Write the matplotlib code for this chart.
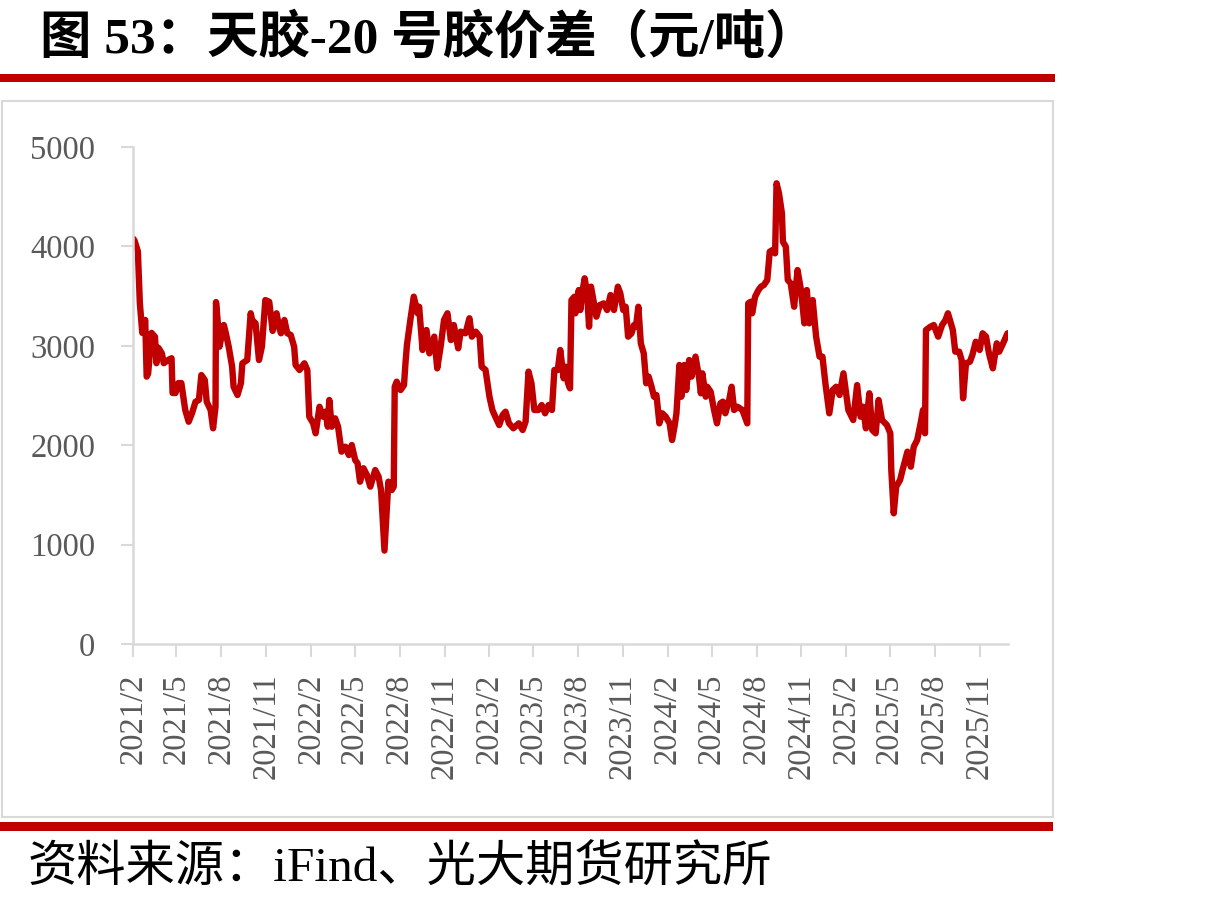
import matplotlib
matplotlib.use("Agg")
import matplotlib.pyplot as plt
import pandas as pd
from matplotlib.patches import Rectangle

title = "图 53：天胶-20 号胶价差（元/吨）"
source = "资料来源：iFind、光大期货研究所"

dates = [
    "2021-02-01", "2021-02-04", "2021-02-11", "2021-02-15", "2021-02-18", "2021-02-20", "2021-02-23", "2021-02-26",
    "2021-03-01", "2021-03-04", "2021-03-11", "2021-03-18", "2021-03-21", "2021-03-25", "2021-04-01", "2021-04-05",
    "2021-04-15", "2021-04-21", "2021-04-23", "2021-04-29", "2021-05-05", "2021-05-11", "2021-05-19", "2021-05-26",
    "2021-06-02", "2021-06-09", "2021-06-16", "2021-06-21", "2021-06-28", "2021-07-02", "2021-07-10", "2021-07-15",
    "2021-07-20", "2021-07-21", "2021-07-26", "2021-07-28", "2021-08-06", "2021-08-10", "2021-08-16", "2021-08-23",
    "2021-08-26", "2021-09-03", "2021-09-10", "2021-09-13", "2021-09-23", "2021-09-30", "2021-10-03", "2021-10-10",
    "2021-10-17", "2021-10-23", "2021-10-30", "2021-11-07", "2021-11-14", "2021-11-22", "2021-11-27", "2021-12-01",
    "2021-12-08", "2021-12-14", "2021-12-21", "2021-12-28", "2021-12-31", "2022-01-08", "2022-01-18", "2022-01-24",
    "2022-01-28", "2022-02-05", "2022-02-10", "2022-02-18", "2022-02-25", "2022-03-02", "2022-03-07", "2022-03-10",
    "2022-03-15", "2022-03-22", "2022-03-28", "2022-04-04", "2022-04-12", "2022-04-19", "2022-04-25", "2022-05-02",
    "2022-05-07", "2022-05-12", "2022-05-19", "2022-05-26", "2022-06-02", "2022-06-12", "2022-06-19", "2022-06-24",
    "2022-07-01", "2022-07-06", "2022-07-09", "2022-07-16", "2022-07-20", "2022-07-22", "2022-07-26", "2022-08-03",
    "2022-08-10", "2022-08-13", "2022-08-16", "2022-08-23", "2022-08-30", "2022-09-07", "2022-09-10", "2022-09-17",
    "2022-09-25", "2022-10-01", "2022-10-11", "2022-10-17", "2022-10-24", "2022-10-31", "2022-11-07", "2022-11-14",
    "2022-11-20", "2022-11-29", "2022-12-04", "2022-12-14", "2022-12-22", "2022-12-27", "2023-01-04", "2023-01-12",
    "2023-01-16", "2023-01-24", "2023-02-01", "2023-02-07", "2023-02-13", "2023-02-21", "2023-02-28", "2023-03-06",
    "2023-03-13", "2023-03-22", "2023-04-02", "2023-04-10", "2023-04-16", "2023-04-22", "2023-04-28", "2023-05-04",
    "2023-05-12", "2023-05-19", "2023-05-26", "2023-06-02", "2023-06-09", "2023-06-14", "2023-06-21", "2023-06-26",
    "2023-07-03", "2023-07-07", "2023-07-12", "2023-07-16", "2023-07-19", "2023-07-25", "2023-07-27", "2023-08-03",
    "2023-08-06", "2023-08-11", "2023-08-15", "2023-08-20", "2023-08-24", "2023-08-28", "2023-09-03", "2023-09-08",
    "2023-09-15", "2023-09-23", "2023-09-30", "2023-10-07", "2023-10-14", "2023-10-22", "2023-10-27", "2023-11-02",
    "2023-11-07", "2023-11-12", "2023-11-19", "2023-11-24", "2023-11-28", "2023-12-03", "2023-12-08", "2023-12-14",
    "2023-12-19", "2023-12-24", "2023-12-30", "2024-01-04", "2024-01-09", "2024-01-15", "2024-01-21", "2024-01-28",
    "2024-02-05", "2024-02-10", "2024-02-15", "2024-02-19", "2024-02-25", "2024-02-29", "2024-03-06", "2024-03-10",
    "2024-03-16", "2024-03-21", "2024-03-29", "2024-04-05", "2024-04-09", "2024-04-12", "2024-04-19", "2024-04-22",
    "2024-04-29", "2024-05-06", "2024-05-12", "2024-05-19", "2024-05-24", "2024-05-29", "2024-06-06", "2024-06-11",
    "2024-06-16", "2024-06-23", "2024-07-03", "2024-07-13", "2024-07-15", "2024-07-20", "2024-07-23", "2024-07-29",
    "2024-08-05", "2024-08-10", "2024-08-16", "2024-08-23", "2024-08-28", "2024-09-03", "2024-09-08", "2024-09-11",
    "2024-09-16", "2024-09-22", "2024-09-24", "2024-09-30", "2024-10-04", "2024-10-10", "2024-10-17", "2024-10-24",
    "2024-10-31", "2024-11-07", "2024-11-12", "2024-11-17", "2024-11-24", "2024-12-01", "2024-12-08", "2024-12-14",
    "2024-12-20", "2024-12-28", "2025-01-04", "2025-01-11", "2025-01-18", "2025-01-26", "2025-02-05", "2025-02-15",
    "2025-02-23", "2025-03-02", "2025-03-07", "2025-03-13", "2025-03-20", "2025-03-26", "2025-04-02", "2025-04-08",
    "2025-04-15", "2025-04-25", "2025-05-02", "2025-05-04", "2025-05-09", "2025-05-14", "2025-05-22", "2025-05-27",
    "2025-06-06", "2025-06-13", "2025-06-19", "2025-06-26", "2025-07-03", "2025-07-08", "2025-07-12", "2025-07-14",
    "2025-07-23", "2025-07-30", "2025-08-08", "2025-08-16", "2025-08-23", "2025-08-28", "2025-09-07", "2025-09-12",
    "2025-09-20", "2025-09-25", "2025-09-28", "2025-10-04", "2025-10-12", "2025-10-17", "2025-10-24", "2025-11-01",
    "2025-11-07", "2025-11-14", "2025-11-20", "2025-11-28", "2025-12-06", "2025-12-11", "2025-12-19", "2025-12-28",
]

spread = [
    4080, 4060, 3950, 3430, 3250, 3130, 3200, 3260,
    2690, 2720, 3130, 3090, 2825, 2980, 2925, 2825,
    2860, 2875, 2525, 2525, 2625, 2625, 2354, 2236,
    2324, 2437, 2455, 2706, 2656, 2437, 2354, 2170,
    2387, 3440, 3159, 2991, 3209, 3129, 2991, 2790,
    2588, 2505, 2623, 2824, 2857, 3327, 3260, 3226,
    2857, 2991, 3460, 3443, 3150, 3327, 3192, 3126,
    3260, 3126, 3109, 2991, 2807, 2757, 2824, 2757,
    2287, 2220, 2120, 2387, 2287, 2337, 2186, 2455,
    2186, 2270, 2186, 1935, 1985, 1901, 2002, 1851,
    1818, 1633, 1768, 1700, 1583, 1750, 1683, 1549,
    940, 1381, 1633, 1549, 1583, 2588, 2639, 2555,
    2605, 2824, 3008, 3260, 3494, 3327, 3393, 2958,
    3159, 2924, 3092, 2773, 2991, 3260, 3327, 3058,
    3209, 2975, 3142, 3126, 3277, 3092, 3142, 3092,
    2790, 2757, 2488, 2354, 2287, 2203, 2304, 2337,
    2220, 2170, 2220, 2153, 2236, 2740, 2623, 2354,
    2354, 2404, 2321, 2404, 2354, 2757, 2757, 2958,
    2673, 2790, 2623, 2572, 3460, 3494, 3327, 3561,
    3360, 3561, 3679, 3528, 3192, 3595, 3427, 3293,
    3410, 3427, 3360, 3511, 3360, 3595, 3528, 3360,
    3393, 3092, 3126, 3209, 3192, 3393, 3025, 2924,
    2623, 2690, 2588, 2488, 2505, 2220, 2321, 2287,
    2220, 2052, 2186, 2321, 2807, 2488, 2807, 2555,
    2857, 2690, 2891, 2690, 2522, 2723, 2488, 2588,
    2538, 2354, 2220, 2421, 2438, 2321, 2455, 2588,
    2354, 2387, 2354, 2220, 3427, 3443, 3327, 3494,
    3561, 3595, 3611, 3662, 3947, 3964, 3930, 4635,
    4534, 4333, 4047, 3997, 3662, 3628, 3393, 3762,
    3561, 3226, 3561, 3226, 3460, 3092, 2891, 2891,
    2623, 2321, 2555, 2588, 2505, 2723, 2354, 2253,
    2605, 2287, 2387, 2170, 2522, 2153, 2120, 2455,
    2253, 2203, 2120, 1750, 1315, 1583, 1650, 1750,
    1935, 1784, 1985, 2052, 2220, 2354, 2120, 3159,
    3192, 3209, 3092, 3209, 3260, 3327, 3159, 2941,
    2941, 2857, 2472, 2824, 2840, 2907, 3041, 2958,
    3126, 3092, 2924, 2773, 3025, 2941, 3025, 3126,
]

x_tick_labels = [
    "2021/2", "2021/5", "2021/8", "2021/11", "2022/2", "2022/5", "2022/8", "2022/11",
    "2023/2", "2023/5", "2023/8", "2023/11", "2024/2", "2024/5", "2024/8", "2024/11",
    "2025/2", "2025/5", "2025/8", "2025/11",
]
y_ticks = [0, 1000, 2000, 3000, 4000, 5000]

RED = "#C00000"
GRID = "#D9D9D9"
TXT = "#595959"

W, H = 1218, 907
fig = plt.figure(figsize=(W / 100, H / 100), dpi=100)

def fx(px):
    return px / W

def fy(py):
    return 1 - py / H

# title
fig.text(fx(40), fy(39), title, fontsize=37, fontweight="bold",
         family=["Liberation Serif", "Noto Sans CJK SC"], va="center", ha="left", color="black")
# red rules
fig.add_artist(Rectangle((0, fy(82)), fx(1055), 8 / H, transform=fig.transFigure,
                         facecolor=RED, edgecolor="none"))
fig.add_artist(Rectangle((0, fy(831)), fx(1053), 9 / H, transform=fig.transFigure,
                         facecolor=RED, edgecolor="none"))
# chart box
fig.add_artist(Rectangle((fx(2), fy(817)), fx(1051), (817 - 101) / H, transform=fig.transFigure,
                         facecolor="none", edgecolor=GRID, lw=1.5))
# source
fig.text(fx(28), fy(868), source, fontsize=35.5,
         family=["Liberation Serif", "Noto Sans CJK SC"], va="center", ha="left", color="black")

ax = fig.add_axes([fx(133), fy(644), fx(1008 - 133), (644 - 147) / H])
x = pd.to_datetime(dates)
ax.plot(x, spread, color=RED, lw=4.6, solid_joinstyle="round", solid_capstyle="round")

ax.set_ylim(0, 5000)
ax.set_yticks(y_ticks)
ax.set_yticklabels([str(v) for v in y_ticks])
tick_pos = pd.to_datetime([lbl.replace("/", "-") + "-01" for lbl in x_tick_labels])
ax.set_xticks(tick_pos)
ax.set_xticklabels(x_tick_labels, rotation=90)
ax.set_xlim(pd.Timestamp("2021-02-01"), pd.Timestamp("2025-12-29"))

for s in ["top", "right"]:
    ax.spines[s].set_visible(False)
for s in ["left", "bottom"]:
    ax.spines[s].set_color(GRID)
    ax.spines[s].set_linewidth(1.8)
ax.tick_params(axis="both", colors=GRID, length=9, width=1.5, labelcolor=TXT)
ax.tick_params(axis="y", pad=18)
ax.tick_params(axis="x", pad=12)
for lbl in ax.get_yticklabels() + ax.get_xticklabels():
    lbl.set_fontfamily("Liberation Serif")
    lbl.set_fontsize(23.5)

fig.savefig("out.png", dpi=100)
